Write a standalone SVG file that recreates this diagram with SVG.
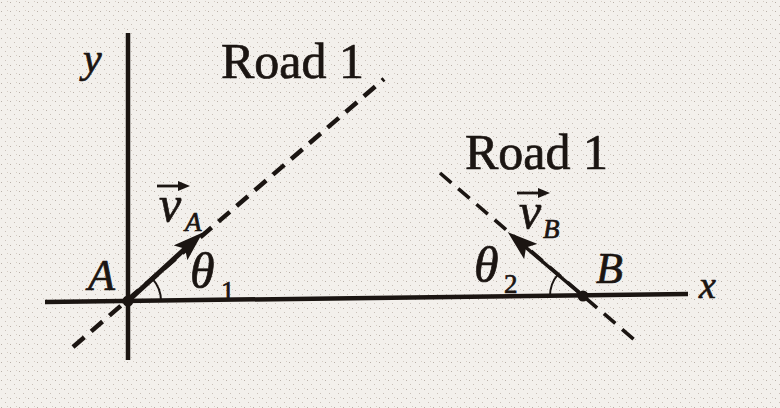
<svg xmlns="http://www.w3.org/2000/svg" width="780" height="408" viewBox="0 0 780 408">
  <style>
    .ax{stroke:#1b1512;stroke-width:4.5;fill:none;stroke-linecap:butt}
    .road{stroke:#1b1512;fill:none;stroke-dasharray:15 9}
    .vec{stroke:#1b1512;fill:none}
    .arc{stroke:#1b1512;stroke-width:2;fill:none}
    .ov{stroke:#1b1512;stroke-width:2.8;fill:none}
    text{font-family:"Liberation Serif","Times New Roman",serif;fill:#1b1512;stroke:#1b1512;stroke-width:0.7}
    .it{font-style:italic}
    .lbl{font-size:50px}
  </style>
  <defs>
    <pattern id="speck" width="9" height="9" patternUnits="userSpaceOnUse">
      <rect width="9" height="9" fill="#f3f0ec"/>
      <rect x="1" y="2" width="1" height="1" fill="#b9b0a8"/>
      <rect x="5" y="6" width="1" height="1" fill="#c9c0b8"/>
      <rect x="7" y="1" width="1" height="1" fill="#d4ccc4"/>
    </pattern>
    <marker id="head" viewBox="0 0 30 20" markerWidth="30" markerHeight="20" refX="10" refY="10" orient="auto" markerUnits="userSpaceOnUse">
      <path d="M0,0 L30,10 L0,20 L6,10 z" fill="#1b1512"/>
    </marker>
    <marker id="ovhead" viewBox="0 0 12 10" markerWidth="12" markerHeight="10" refX="3" refY="5" orient="auto" markerUnits="userSpaceOnUse">
      <path d="M0,0 L12,5 L0,10 z" fill="#1b1512"/>
    </marker>
  </defs>
  <rect width="780" height="408" fill="url(#speck)"/>

  <g id="axes">
    <line class="ax" x1="128" y1="33" x2="128" y2="360"/>
    <line class="ax" x1="45" y1="302" x2="688" y2="294"/>
    <text class="it" x="83" y="72" font-size="42">y</text>
    <text class="it" x="699" y="298" font-size="38">x</text>
  </g>

  <g id="connectors">
    <line id="roadA" class="road" stroke-width="4.5" x1="73" y1="347" x2="384" y2="79"/>
    <line id="roadB" class="road" stroke-width="3.6" x1="440" y1="173" x2="637" y2="342"/>
    <line id="vA" class="vec" stroke-width="5" x1="128" y1="301" x2="188" y2="246" marker-end="url(#head)"/>
    <line id="vB" class="vec" stroke-width="3.5" x1="583" y1="296" x2="523" y2="245" marker-end="url(#head)"/>
    <path class="arc" d="M161,301 A33,33 0 0 0 152.5,278.9"/>
    <path class="arc" d="M550,296.4 A33,33 0 0 1 558,274.3"/>
  </g>

  <g id="nodeA">
    <circle cx="128" cy="301" r="5.5" fill="#1b1512"/>
    <text class="it" x="88" y="290" font-size="44">A</text>
  </g>

  <g id="nodeB">
    <circle cx="583" cy="296" r="5.5" fill="#1b1512"/>
    <text class="it" x="596" y="283" font-size="44">B</text>
  </g>

  <g id="road1-label-a">
    <text class="lbl" x="221" y="78">Road 1</text>
  </g>
  <g id="road1-label-b">
    <text class="lbl" x="465" y="169">Road 1</text>
  </g>

  <g id="label-vA">
    <line class="ov" x1="157" y1="186" x2="181" y2="186" marker-end="url(#ovhead)"/>
    <text class="it" x="159" y="221" font-size="50">v</text>
    <text class="it" x="185" y="231" font-size="27">A</text>
  </g>
  <g id="label-vB">
    <line class="ov" x1="517" y1="193" x2="541" y2="193" marker-end="url(#ovhead)"/>
    <text class="it" x="519" y="228" font-size="50">v</text>
    <text class="it" x="543" y="238" font-size="27">B</text>
  </g>

  <g id="label-theta1">
    <text class="it" x="190" y="288" font-size="50">θ</text>
    <text x="221" y="300" font-size="27">1</text>
  </g>
  <g id="label-theta2">
    <text class="it" x="474" y="282" font-size="50">θ</text>
    <text x="504" y="293" font-size="27">2</text>
  </g>
</svg>
